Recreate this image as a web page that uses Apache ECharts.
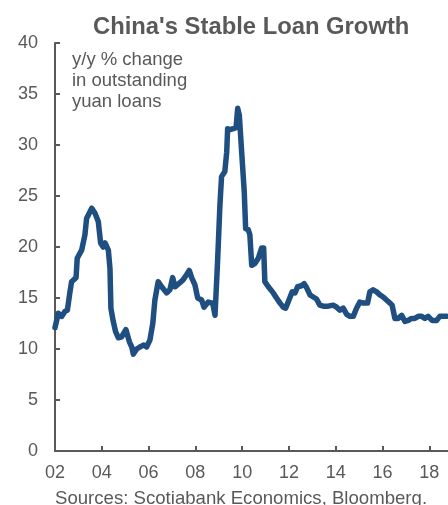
<!DOCTYPE html>
<html>
<head>
<meta charset="utf-8">
<script src="https://cdn.jsdelivr.net/npm/echarts@6/dist/echarts.min.js"></script>
<style>
html,body{margin:0;padding:0;background:#fff;}
#chart{width:448px;height:505px;}
</style>
</head>
<body>
<div id="chart"></div>
<script>
// Decimal year of each traced point
var years = [
  2002.00, 2002.07, 2002.14, 2002.29, 2002.43, 2002.53, 2002.64, 2002.71, 2002.90, 2002.95,
  2003.14, 2003.28, 2003.35, 2003.57, 2003.71, 2003.85, 2003.95, 2004.06, 2004.14, 2004.28,
  2004.35, 2004.39, 2004.49, 2004.59, 2004.71, 2004.85, 2005.03, 2005.18, 2005.28, 2005.35,
  2005.49, 2005.63, 2005.80, 2005.92, 2006.06, 2006.18, 2006.27, 2006.41, 2006.56, 2006.77,
  2006.91, 2007.03, 2007.13, 2007.34, 2007.48, 2007.63, 2007.74, 2007.84, 2007.98, 2008.10,
  2008.27, 2008.37, 2008.55, 2008.74, 2008.84, 2008.95, 2009.05, 2009.12, 2009.26, 2009.34,
  2009.38, 2009.48, 2009.62, 2009.74, 2009.81, 2009.88, 2009.98, 2010.09, 2010.15, 2010.26,
  2010.33, 2010.41, 2010.55, 2010.69, 2010.83, 2010.92, 2010.97, 2011.12, 2011.33, 2011.47,
  2011.62, 2011.76, 2011.86, 2012.00, 2012.14, 2012.26, 2012.37, 2012.54, 2012.65, 2012.76,
  2012.90, 2013.04, 2013.18, 2013.32, 2013.47, 2013.68, 2013.89, 2014.04, 2014.18, 2014.32,
  2014.47, 2014.61, 2014.75, 2014.89, 2015.03, 2015.18, 2015.36, 2015.46, 2015.60, 2015.75,
  2015.89, 2016.03, 2016.17, 2016.32, 2016.41, 2016.53, 2016.67, 2016.82, 2016.96, 2017.10,
  2017.24, 2017.38, 2017.53, 2017.67, 2017.81, 2017.95, 2018.12, 2018.31, 2018.45, 2018.59,
  2018.74
];
// y/y % change in outstanding yuan loans
var loanGrowth = [
  12.1, 12.2, 13.5, 13.2, 13.7, 13.8, 15.6, 16.6, 17.0, 18.9,
  19.7, 21.2, 22.8, 23.8, 23.3, 22.5, 20.4, 20.0, 20.4, 19.7,
  17.9, 14.0, 12.7, 11.7, 11.1, 11.2, 11.9, 10.7, 10.2, 9.5,
  10.0, 10.2, 10.4, 10.2, 10.9, 12.5, 14.8, 16.6, 16.1, 15.5,
  15.8, 17.0, 16.1, 16.5, 16.8, 17.3, 17.7, 17.0, 16.3, 15.0,
  14.8, 14.1, 14.6, 14.5, 13.3, 18.6, 24.1, 26.9, 27.4, 29.3,
  31.6, 31.5, 31.6, 31.7, 33.6, 32.9, 29.3, 25.4, 21.8, 21.7,
  21.2, 18.2, 18.4, 18.9, 19.9, 19.9, 16.6, 16.1, 15.5, 15.0,
  14.5, 14.1, 14.0, 14.8, 15.6, 15.5, 16.1, 16.2, 16.4, 16.0,
  15.3, 15.1, 14.9, 14.3, 14.2, 14.2, 14.3, 14.1, 13.8, 14.0,
  13.4, 13.2, 13.2, 14.0, 14.6, 14.5, 14.5, 15.6, 15.8, 15.6,
  15.3, 15.1, 14.8, 14.5, 14.3, 13.0, 13.0, 13.3, 12.7, 12.8,
  13.0, 13.0, 13.2, 13.2, 13.0, 13.2, 12.8, 12.8, 13.2, 13.2,
  13.2
];
var xTickYears = [2002, 2004, 2006, 2008, 2010, 2012, 2014, 2016, 2018];
var yTicks = [0, 5, 10, 15, 20, 25, 30, 35, 40];

var chart = echarts.init(document.getElementById('chart'), null, {renderer: 'canvas'});
var lineData = years.map(function (y, i) { return [y, loanGrowth[i]]; });
var axisGray = '#595959';
var font = 'Arial, "Liberation Sans", sans-serif';

chart.setOption({
  animation: false,
  backgroundColor: '#ffffff',
  title: {
    text: "China's Stable Loan Growth",
    left: 88,
    top: 10,
    textStyle: {fontFamily: font, fontSize: 23.8, fontWeight: 'bold', color: axisGray}
  },
  grid: {left: 55, right: 0, top: 43, bottom: 54, containLabel: false},
  xAxis: {
    type: 'value',
    min: 2002,
    max: 2018.8,
    axisLine: {show: true, onZero: false, lineStyle: {color: axisGray, width: 2}},
    axisTick: {show: true, inside: true, length: 5, customValues: xTickYears, lineStyle: {color: axisGray, width: 2}},
    axisLabel: {
      customValues: xTickYears,
      margin: 13,
      fontFamily: font, fontSize: 18, color: axisGray,
      formatter: function (v) { return String(Math.round(v) % 100).padStart(2, '0'); }
    },
    splitLine: {show: false}
  },
  yAxis: {
    type: 'value',
    min: 0,
    max: 40,
    interval: 5,
    axisLine: {show: true, lineStyle: {color: axisGray, width: 2}},
    axisTick: {show: true, inside: true, length: 5, lineStyle: {color: axisGray, width: 2}},
    axisLabel: {
      margin: 17,
      fontFamily: font, fontSize: 18, color: axisGray,
      formatter: function (v) { return yTicks.indexOf(v) >= 0 ? String(v) : ''; }
    },
    splitLine: {show: false}
  },
  graphic: [
    {
      type: 'text',
      left: 72,
      top: 49,
      style: {
        text: 'y/y % change\nin outstanding\nyuan loans',
        font: '18.5px ' + font,
        lineHeight: 21,
        fill: axisGray
      }
    },
    {
      type: 'text',
      left: 55,
      top: 489,
      style: {
        text: 'Sources: Scotiabank Economics, Bloomberg.',
        font: '18.6px ' + font,
        fill: axisGray
      }
    }
  ],
  series: [{
    type: 'line',
    data: lineData,
    showSymbol: false,
    symbol: 'none',
    smooth: false,
    lineStyle: {color: '#1F4E80', width: 5.5, join: 'round', cap: 'round'}
  }]
});
</script>
</body>
</html>
